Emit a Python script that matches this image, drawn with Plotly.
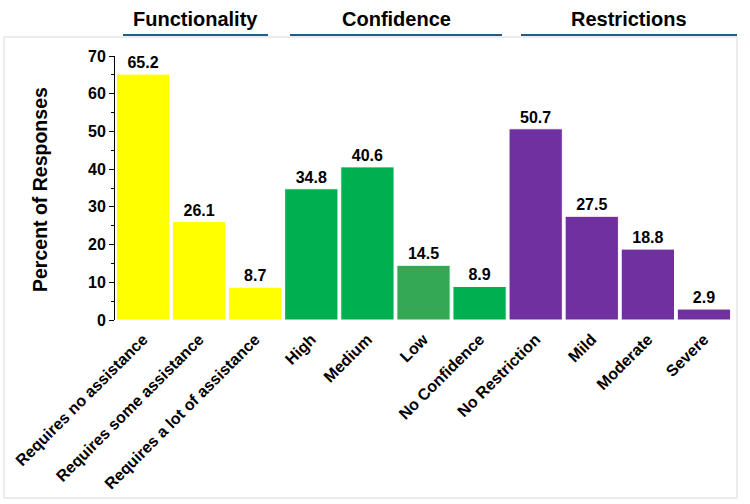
import plotly.graph_objects as go

categories = ["Requires no assistance", "Requires some assistance", "Requires a lot of assistance",
              "High", "Medium", "Low", "No Confidence",
              "No Restriction", "Mild", "Moderate", "Severe"]
values = [65.2, 26.1, 8.7, 34.8, 40.6, 14.5, 8.9, 50.7, 27.5, 18.8, 2.9]
colors = ["#FFFF00", "#FFFF00", "#FFFF00",
          "#00B050", "#00B050", "#34A853", "#00B050",
          "#7030A0", "#7030A0", "#7030A0", "#7030A0"]
groups = ["Functionality", "Confidence", "Restrictions"]
y_ticks = [0, 10, 20, 30, 40, 50, 60, 70]

W, H = 750, 504
L, R, T, B = 115, 732, 56, 320

def px(x):
    return (x - L) / (R - L)

def py(y):
    return (B - y) / (B - T)

fig = go.Figure()
fig.add_trace(go.Bar(
    x=categories, y=values,
    marker=dict(color=colors, line=dict(color="white", width=1)),
    text=[f"{v:.1f}" for v in values],
    textposition="outside",
    textfont=dict(family="Liberation Sans, Arial", size=16, color="black", weight="bold"),
    cliponaxis=False,
))

shapes = [
    dict(type="rect", xref="paper", yref="paper", x0=px(4), x1=px(737), y0=py(498), y1=py(37),
         line=dict(color="#D9D9D9", width=1), layer="below"),
]
header_x = [(123, 268), (290, 502), (521, 737)]
annotations = []
for g, (a, b) in zip(groups, header_x):
    shapes.append(dict(type="line", xref="paper", yref="paper", x0=px(a), x1=px(b),
                       y0=py(35), y1=py(35), line=dict(color="#1F5F86", width=2)))
    annotations.append(dict(text=g, xref="paper", yref="paper", x=px((a + b) / 2), y=py(19),
                            showarrow=False, xanchor="center", yanchor="middle",
                            font=dict(family="Liberation Sans Narrow, Liberation Sans, Arial",
                                      size=20, color="black", weight="bold")))
annotations.append(dict(text="Percent of Responses", xref="paper", yref="paper",
                        x=px(40), y=py(190), textangle=-90, showarrow=False,
                        xanchor="center", yanchor="middle",
                        font=dict(family="Liberation Sans, Arial", size=19.5, color="black", weight="bold")))

fig.update_layout(
    width=W, height=H,
    margin=dict(l=L, r=W - R, t=T, b=H - B, pad=0),
    paper_bgcolor="white", plot_bgcolor="white",
    bargap=0.05,
    showlegend=False,
    shapes=shapes,
    annotations=annotations,
    xaxis=dict(tickangle=-45, showline=False, ticks="", showgrid=False, ticklabelstandoff=6,
               tickfont=dict(family="Liberation Sans, Arial", size=16, color="black", weight="bold")),
    yaxis=dict(range=[0, 70], tickvals=y_ticks, showline=True, linecolor="black", linewidth=1,
               ticks="outside", ticklen=5, tickcolor="black", showgrid=False, zeroline=False,
               minor=dict(dtick=5, ticks="outside", ticklen=3, tickcolor="black"),
               tickfont=dict(family="Liberation Sans, Arial", size=16, color="black", weight="bold")),
)

fig.write_html("out.html")
